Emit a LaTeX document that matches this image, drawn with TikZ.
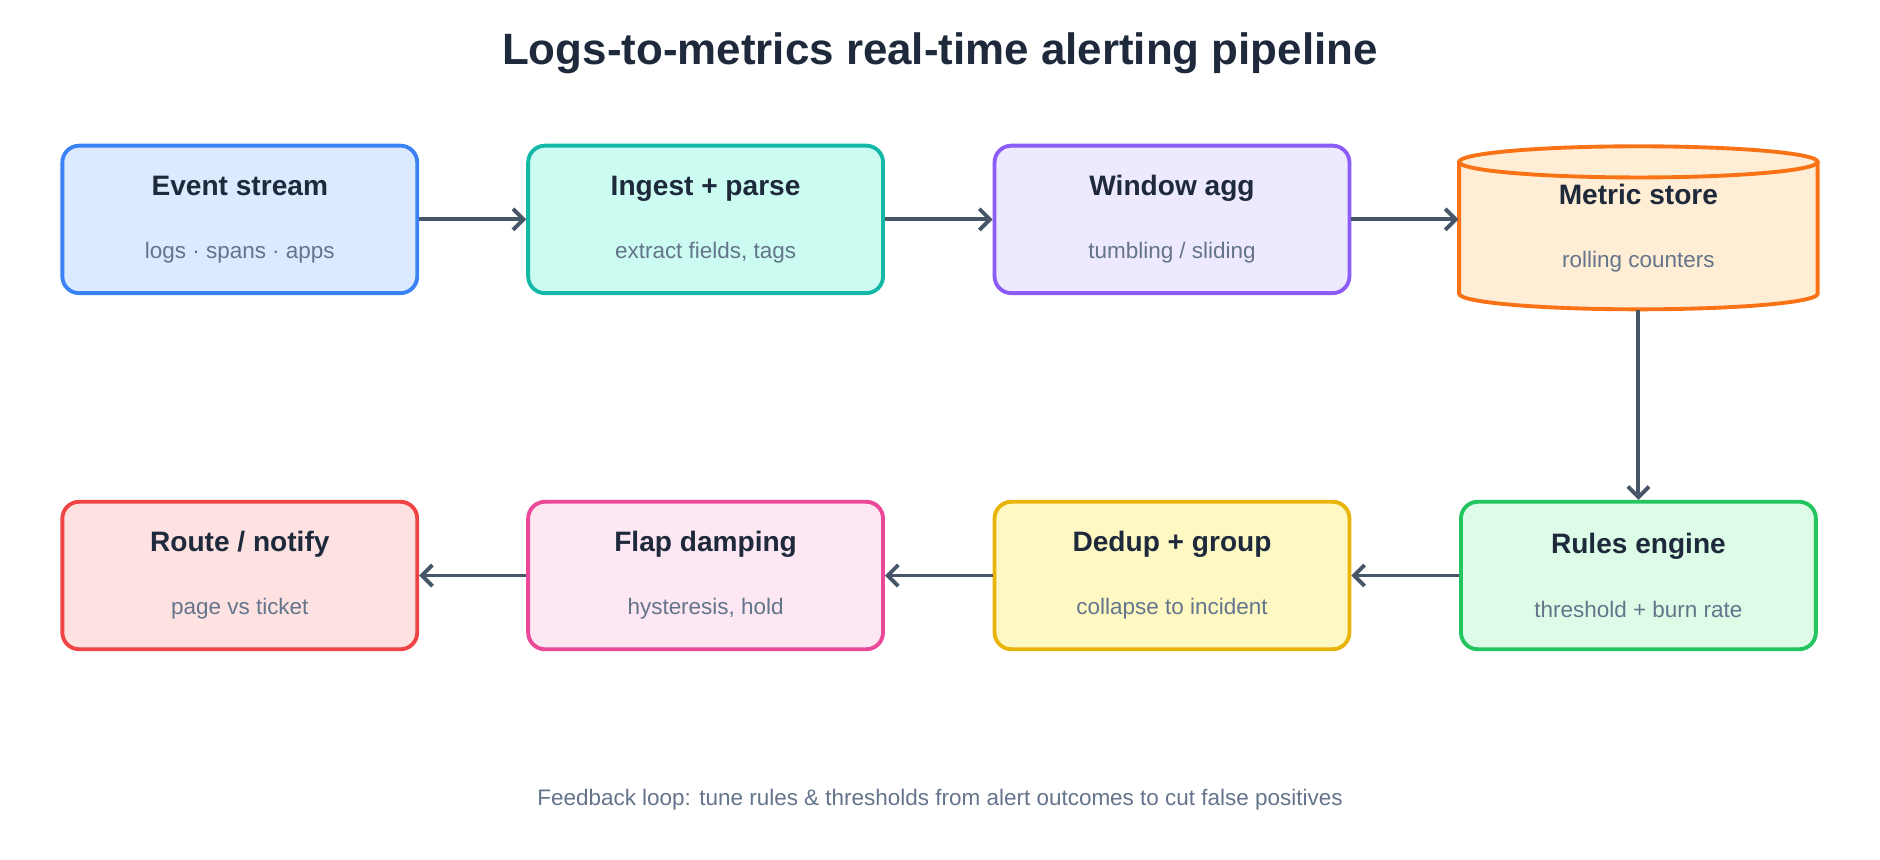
\documentclass[tikz,border=0pt]{standalone}
\usepackage{fontspec}
\usetikzlibrary{arrows.meta}
\setmainfont{Liberation Sans}
\begin{document}
\begin{tikzpicture}[x=0.12mm,y=-0.12mm,
  box/.style={rectangle,rounded corners=14*0.12mm,line width=1.1pt,minimum width=296*0.12mm,minimum height=123*0.12mm,align=center,inner sep=0pt},
  arr/.style={-{Straight Barb[length=3pt,width=6pt]},line width=1.1pt,draw=arrc},
  ]
\definecolor{tt}{HTML}{1E293B}\definecolor{st}{HTML}{64748B}\definecolor{arrc}{HTML}{475569}
\definecolor{b1}{HTML}{3B82F6}\definecolor{f1}{HTML}{DBEAFE}
\definecolor{b2}{HTML}{14B8A6}\definecolor{f2}{HTML}{CCFBF1}
\definecolor{b3}{HTML}{8B5CF6}\definecolor{f3}{HTML}{EDE9FE}
\definecolor{b4}{HTML}{F97316}\definecolor{f4}{HTML}{FFEDD5}
\definecolor{b5}{HTML}{22C55E}\definecolor{f5}{HTML}{DCFCE7}
\definecolor{b6}{HTML}{EAB308}\definecolor{f6}{HTML}{FEF9C3}
\definecolor{b7}{HTML}{EC4899}\definecolor{f7}{HTML}{FCE7F3}
\definecolor{b8}{HTML}{EF4444}\definecolor{f8}{HTML}{FEE2E2}
\newcommand{\bt}[2]{{\fontsize{8pt}{9pt}\selectfont\bfseries\color{tt}#1}\\[6pt]{\fontsize{6.4pt}{8pt}\selectfont\color{st}#2}}
\useasboundingbox (0,0) rectangle (1568,717);
\node[font=\fontsize{12.5pt}{14pt}\selectfont\bfseries,text=tt] (title) at (784,44) {Logs-to-metrics real-time alerting pipeline};
\node[box,draw=b1,fill=f1] (es) at (200,183) {\bt{Event stream}{logs · spans · apps}};
\node[box,draw=b2,fill=f2] (ip) at (588.5,183) {\bt{Ingest + parse}{extract fields, tags}};
\node[box,draw=b3,fill=f3] (wa) at (977.5,183) {\bt{Window agg}{tumbling / sliding}};
% cylinder
\fill[f4] (1217,135) -- (1217,245) arc[start angle=180,end angle=360,x radius=149.5,y radius=-13] -- (1516,135) -- cycle;
\fill[f4] (1366.5,135) ellipse[x radius=149.5,y radius=13];
\draw[b4,line width=1.1pt] (1217,135) -- (1217,245) arc[start angle=180,end angle=360,x radius=149.5,y radius=-13] -- (1516,135);
\draw[b4,line width=1.1pt] (1366.5,135) ellipse[x radius=149.5,y radius=13];
\node[rectangle,minimum width=299*0.12mm,minimum height=136*0.12mm,inner sep=0pt,align=center] (ms) at (1366.5,190) {\bt{Metric store}{rolling counters}};
\node[box,draw=b5,fill=f5] (re) at (1366.5,480) {\bt{Rules engine}{threshold + burn rate}};
\node[box,draw=b6,fill=f6] (dg) at (977.5,480) {\bt{Dedup + group}{collapse to incident}};
\node[box,draw=b7,fill=f7] (fd) at (588.5,480) {\bt{Flap damping}{hysteresis, hold}};
\node[box,draw=b8,fill=f8] (rn) at (200,480) {\bt{Route / notify}{page vs ticket}};
\draw[arr] (es) -- (ip);
\draw[arr] (ip) -- (wa);
\draw[arr] (wa.east) -- (ms.west|-wa.east);
\draw[arr] (ms) -- (re);
\draw[arr] (re) -- (dg);
\draw[arr] (dg) -- (fd);
\draw[arr] (fd) -- (rn);
\node[font=\fontsize{6.4pt}{8pt}\selectfont,text=st] (foot) at (784,667) {Feedback loop: tune rules \& thresholds from alert outcomes to cut false positives};
\end{tikzpicture}
\end{document}
